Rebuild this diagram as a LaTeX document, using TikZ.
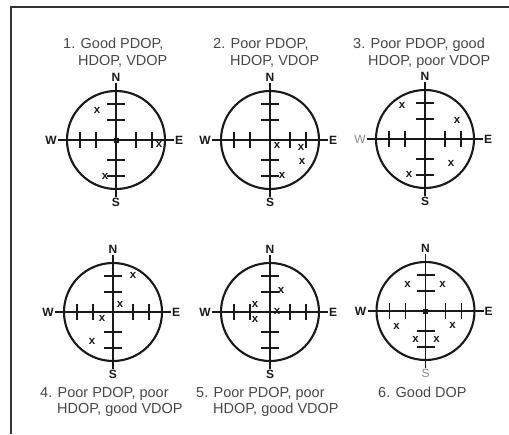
\documentclass[tikz,border=0pt]{standalone}
\usepackage{fontspec}
\setmainfont{Liberation Sans}
\newcommand\gdial[6]{%
  \begin{scope}[shift={(#2,#3)}, yscale=-1]
    \draw[ring] (0,0) circle (49);
    \draw[axisline] (-58,0) -- (58,0);
    \draw[axisline] (0,-57) -- (0,57);
    \foreach \t in {-36,-20,20,36} {
      \draw[tickmark] (\t,-8) -- (\t,8);
      \draw[tickmark] (-9,\t) -- (9,\t);
    }
    \node[#4, anchor=east] (#1W) at (-58.5,0) {W};
    \node[dir, anchor=west] (#1E) at (58.5,0) {E};
    \node[dir, anchor=south] (#1N) at (0,57.5) {N};
    \node[#5, anchor=north] (#1S) at (0,-57.5) {S};
    \foreach \a/\b [count=\i] in {#6} {
      \node[sat] (#1x\i) at (\a,\b) {x};
    }
  \end{scope}}
\begin{document}
\begin{tikzpicture}[x=1pt,y=-1pt,
  ring/.style={line width=2.1pt, draw=black!90},
  axisline/.style={line width=1.8pt, draw=black!90},
  tickmark/.style={line width=1.8pt, draw=black!90},
  dir/.style={font=\fontsize{12}{12}\selectfont\bfseries, inner sep=0.5pt, text=black!90},
  dirlight/.style={font=\fontsize{12}{12}\selectfont, inner sep=0.5pt, text=black!45},
  sat/.style={font=\fontsize{11.5}{11.5}\selectfont\bfseries, inner sep=0pt, text=black!90},
  title/.style={font=\fontsize{14.5}{14.5}\selectfont, text=black!72, inner sep=0pt, anchor=base west},
  centerdot/.style={fill=black!90, minimum size=5pt, inner sep=0pt},
]
\useasboundingbox (0,0) rectangle (509,434);
\draw[line width=1.3pt, black!80] (11,434) -- (11,7) -- (509,7);

% titles
\node[title] (t1a) at (63,48) {1. Good PDOP,};
\node[title] (t1b) at (78,65) {HDOP, VDOP};
\node[title] (t2a) at (213,48) {2. Poor PDOP,};
\node[title] (t2b) at (230,65) {HDOP, VDOP};
\node[title] (t3a) at (353,48) {3. Poor PDOP, good};
\node[title] (t3b) at (368,65) {HDOP, poor VDOP};
\node[title] (t4a) at (40,397) {4. Poor PDOP, poor};
\node[title] (t4b) at (57,413.5) {HDOP, good VDOP};
\node[title] (t5a) at (196,397) {5. Poor PDOP, poor};
\node[title] (t5b) at (213,413.5) {HDOP, good VDOP};
\node[title] (t6a) at (378,397) {6. Good DOP};

% dials
\gdial{d1}{116}{140}{dir}{dir}{-19/30, 43/-4, -11/-36}
\gdial{d2}{270}{140}{dir}{dir}{7/-5, 31/-7, 32/-21, 12/-35}
\gdial{d3}{425}{139}{dirlight}{dir}{-23/34, 32/19, 26/-24, -16/-35}
\gdial{d4}{113}{312}{dir}{dir}{20/37, 7/8, -11/-6, -21/-29}
\gdial{d5}{270}{312}{dir}{dir}{11/22, -15/8, -15/-7, 7/1}
\gdial{d6}{425.5}{311}{dir}{dirlight}{-18/27, 17/27, -29/-15, 27/-14, -10/-28, 11/-28}

\node[centerdot] (d1c) at (116,140) {};
\node[centerdot] (d6c) at (425.5,311) {};
\end{tikzpicture}
\end{document}
